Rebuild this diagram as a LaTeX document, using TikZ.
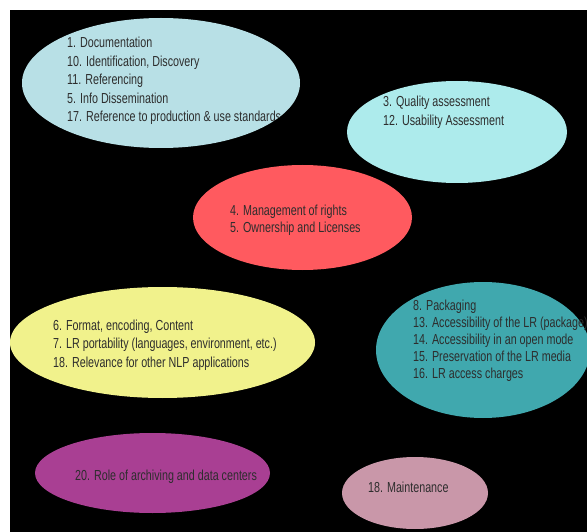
\documentclass[tikz,border=0pt]{standalone}
\usepackage{fontspec}
\setmainfont{Liberation Sans}[FakeStretch=0.74]
\usetikzlibrary{shapes.geometric}
\definecolor{cBlue}{RGB}{184,224,230}
\definecolor{cCyan}{RGB}{173,235,236}
\definecolor{cRed}{RGB}{255,90,95}
\definecolor{cYellow}{RGB}{241,242,140}
\definecolor{cTeal}{RGB}{64,168,174}
\definecolor{cPurple}{RGB}{169,63,147}
\definecolor{cPink}{RGB}{201,151,169}
\definecolor{cText}{RGB}{45,45,45}
\tikzset{
  blob/.style={ellipse, inner sep=0pt, draw=none},
  lbl/.style={anchor=base west, inner sep=0pt, text=cText, font=\fontsize{14.5}{17}\selectfont}
}
\begin{document}
\begin{tikzpicture}[x=1pt,y=-1pt]
\useasboundingbox (0,0) rectangle (587,532);
\fill[white] (0,0) rectangle (587,532);
\fill[black] (10,10) rectangle (587,532);
% ellipses
\node[blob, fill=cBlue, minimum width=278pt, minimum height=130pt] (e1) at (161,83) {};
\node[blob, fill=cCyan, minimum width=220pt, minimum height=102pt] (e2) at (457,132) {};
\node[blob, fill=cRed, minimum width=219pt, minimum height=105pt] (e3) at (302.5,217.5) {};
\node[blob, fill=cYellow, minimum width=305pt, minimum height=111pt] (e4) at (162.5,342.5) {};
\node[blob, fill=cTeal, minimum width=214pt, minimum height=136pt] (e5) at (483,350) {};
\node[blob, fill=cPurple, minimum width=235pt, minimum height=80pt] (e6) at (152.5,473) {};
\node[blob, fill=cPink, minimum width=146pt, minimum height=72pt] (e7) at (415,493) {};
% texts
\begin{scope}
\clip (161,83) ellipse [x radius=139pt, y radius=65pt];
\node[lbl] (t1a) at (67,48) {1. Documentation};
\node[lbl] (t1b) at (67,66.5) {10. Identification, Discovery};
\node[lbl] (t1c) at (67,85) {11. Referencing};
\node[lbl] (t1d) at (67,103.5) {5. Info Dissemination};
\node[lbl] (t1e) at (67,122) {17. Reference to production \& use standards};
\end{scope}
\node[lbl] (t2a) at (383,107) {3. Quality assessment};
\node[lbl] (t2b) at (383,126) {12. Usability Assessment};
\node[lbl] (t3a) at (230,215) {4. Management of rights};
\node[lbl] (t3b) at (230,233) {5. Ownership and Licenses};
\node[lbl] (t4a) at (53,330) {6. Format, encoding, Content};
\node[lbl] (t4b) at (53,348.5) {7. LR portability (languages, environment, etc.)};
\node[lbl] (t4c) at (53,367) {18. Relevance for other NLP applications};
\node[lbl] (t5a) at (413,310) {8. Packaging};
\node[lbl] (t5b) at (413,327) {13. Accessibility of the LR (package)};
\node[lbl] (t5c) at (413,344) {14. Accessibility in an open mode};
\node[lbl] (t5d) at (413,361) {15. Preservation of the LR media};
\node[lbl] (t5e) at (413,378) {16. LR access charges};
\node[lbl] (t6) at (75,480) {20. Role of archiving and data centers};
\node[lbl] (t7) at (368,492) {18. Maintenance};
\end{tikzpicture}
\end{document}
